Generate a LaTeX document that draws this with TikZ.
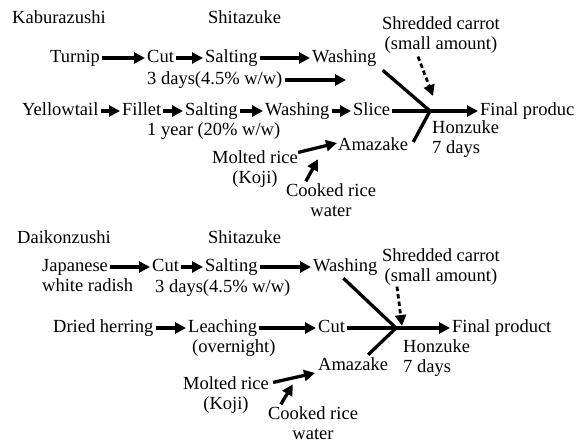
\documentclass[tikz,border=0pt]{standalone}
\usepackage{fontspec}
\setmainfont{Liberation Serif}
\usetikzlibrary{arrows.meta,calc}
\begin{document}
\begin{tikzpicture}[x=1pt,y=-1pt,
  lab/.style={font=\fontsize{18.5}{20}\selectfont, inner sep=2pt, text height=12.5pt, text depth=3.5pt, anchor=west},
  ml/.style={font=\fontsize{18.5}{20}\selectfont, inner sep=2pt, align=center},
  arr/.style={line width=3.3pt, -{Triangle[length=11pt,width=11pt]}},
  ln/.style={line width=3.3pt},
  darr/.style={line width=2.8pt, dash pattern=on 4.5pt off 3pt, -{Triangle[length=11pt,width=11pt]}}]
\useasboundingbox (0,0) rectangle (581,444);

% ---------- top: Kaburazushi ----------
\node[lab] (kab) at (10,19) {Kaburazushi};
\node[lab] (shi1) at (206,19) {Shitazuke};
\node[lab] (turnip) at (48,58) {Turnip};
\node[lab] (cut1) at (145,58) {Cut};
\node[lab] (salt1) at (203,58) {Salting};
\node[lab] (wash1) at (310,58) {Washing};
\node[lab] (days1) at (145,80) {3 days(4.5\% w/w)};
\coordinate (o1) at (346,80);
\node[lab] (yt) at (20,111) {Yellowtail};
\node[lab] (fil) at (120,111) {Fillet};
\node[lab] (salt2) at (183,111) {Salting};
\node[lab] (wash2) at (263,111) {Washing};
\node[lab] (slice) at (351,111) {Slice};
\node[lab] (year) at (145,131) {1 year (20\% w/w)};
\coordinate (j1) at (430,111);
\node[lab] (fin1) at (478,111) {Final produc};
\node[ml] (sc1) at (441,35) {Shredded carrot\\(small amount)};
\node[lab] (ama1) at (336,146) {Amazake};
\node[ml, align=left, anchor=west] (hon1) at (430,139) {Honzuke\\7 days};
\node[ml] (mr1) at (255,169) {Molted rice\\(Koji)};
\node[ml] (cr1) at (331,200) {Cooked rice\\water};

\draw[arr] (turnip) -- (cut1);
\draw[arr] (cut1) -- (salt1);
\draw[arr] (salt1) -- (wash1);
\draw[arr] (days1) -- (o1);
\draw[arr] (yt) -- (fil);
\draw[arr] (fil) -- (salt2);
\draw[arr] (salt2) -- (wash2);
\draw[arr] (wash2) -- (slice);
\draw[ln] (slice) -- (j1);
\draw[arr] (j1) -- (fin1);
\draw[ln] ($(wash1.south east)+(4,2)$) -- (j1);
\draw[ln] ($(ama1.east)+(3,-4)$) -- (j1);
\draw[darr] ($(sc1.south)+(-23,1)$) -- ($(j1)+(3,-15)$);
\draw[arr] ($(mr1.north east)+(-2,4)$) -- ($(ama1.west)+(1,-3)$);
\draw[arr] ($(cr1.north west)+(22,0)$) -- ($(cr1.north west)+(34,-22)$);

% ---------- bottom: Daikonzushi ----------
\node[lab] (dai) at (15,239) {Daikonzushi};
\node[lab] (shi2) at (206,239) {Shitazuke};
\node[lab] (jap) at (40,267) {Japanese};
\node[lab] (jap2) at (40,287) {white radish};
\node[lab] (cut3) at (150,267) {Cut};
\node[lab] (salt3) at (203,267) {Salting};
\node[lab] (wash3) at (311,267) {Washing};
\node[lab] (days3) at (153,288) {3 days(4.5\% w/w)};
\node[lab] (dh) at (51,328) {Dried herring};
\node[lab] (leach) at (186,328) {Leaching};
\node[lab] (over) at (190,348) {(overnight)};
\node[lab] (cut4) at (316,328) {Cut};
\coordinate (j2) at (396,328);
\node[lab] (fin2) at (450,328) {Final product};
\node[ml] (sc2) at (441,267) {Shredded carrot\\(small amount)};
\node[lab] (ama2) at (316,366) {Amazake};
\node[ml, align=left, anchor=west] (hon2) at (401,358) {Honzuke\\7 days};
\node[ml] (mr2) at (226,395) {Molted rice\\(Koji)};
\node[ml] (cr2) at (313,423) {Cooked rice\\water};

\draw[arr] (jap) -- (cut3);
\draw[arr] (cut3) -- (salt3);
\draw[arr] (salt3) -- (wash3);
\draw[arr] (dh) -- (leach);
\draw[arr] (leach) -- (cut4);
\draw[ln] (cut4) -- (j2);
\draw[arr] (j2) -- (fin2);
\draw[ln] ($(wash3.south)+(-2,1)$) -- (j2);
\draw[ln] ($(ama2.north)+(15,-1)$) -- (j2);
\draw[darr] ($(sc2.south)+(-44,-1)$) -- ($(j2)+(6,-2)$);
\draw[arr] ($(mr2.north east)+(2,8)$) -- ($(ama2.west)+(-1,7)$);
\draw[arr] ($(cr2.north west)+(15,0)$) -- ($(cr2.north west)+(27,-20)$);
\end{tikzpicture}
\end{document}
